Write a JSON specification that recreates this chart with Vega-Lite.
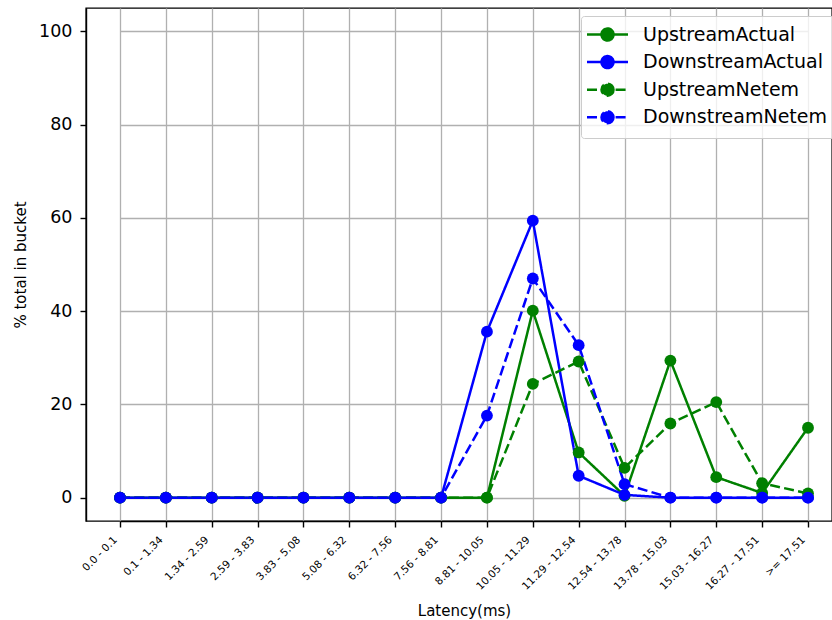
{
  "$schema": "https://vega.github.io/schema/vega-lite/v6.json",
  "width": 746,
  "height": 513,
  "autosize": {"type": "none"},
  "padding": {"left": 86, "top": 8, "right": 0, "bottom": 99},
  "background": "white",
  "config": {
    "font": "DejaVu Sans",
    "view": {"stroke": "#000000", "strokeWidth": 1.4},
    "axis": {
      "domainColor": "#000000", "domainWidth": 1.4,
      "tickColor": "#000000", "tickWidth": 1.4, "tickSize": 6,
      "gridColor": "#b0b0b0", "gridWidth": 1.3,
      "labelColor": "#000000", "titleColor": "#000000",
      "titleFontWeight": "normal", "labelFont": "DejaVu Sans", "titleFont": "DejaVu Sans"
    },
    "legend": {
      "orient": "none", "legendX": 495, "legendY": 8,
      "fillColor": "rgba(255,255,255,0.8)", "strokeColor": "#cccccc", "cornerRadius": 3,
      "padding": 9, "labelFontSize": 19, "labelFont": "DejaVu Sans", "labelColor": "#000000", "labelLimit": 400,
      "symbolType": "M-4.1,0H4.1M1.2,0A1.2,1.2,0,1,1,-1.2,0A1.2,1.2,0,1,1,1.2,0Z",
      "symbolSize": 100, "symbolStrokeWidth": 2.5, "symbolOffset": 8,
      "labelOffset": 26, "rowPadding": 4.6, "symbolOpacity": 1
    }
  },
  "data": {"values": [
    {"bucket": "0.0 - 0.1", "series": "UpstreamActual", "pct": 0},
    {"bucket": "0.1 - 1.34", "series": "UpstreamActual", "pct": 0},
    {"bucket": "1.34 - 2.59", "series": "UpstreamActual", "pct": 0},
    {"bucket": "2.59 - 3.83", "series": "UpstreamActual", "pct": 0},
    {"bucket": "3.83 - 5.08", "series": "UpstreamActual", "pct": 0},
    {"bucket": "5.08 - 6.32", "series": "UpstreamActual", "pct": 0},
    {"bucket": "6.32 - 7.56", "series": "UpstreamActual", "pct": 0},
    {"bucket": "7.56 - 8.81", "series": "UpstreamActual", "pct": 0},
    {"bucket": "8.81 - 10.05", "series": "UpstreamActual", "pct": 0},
    {"bucket": "10.05 - 11.29", "series": "UpstreamActual", "pct": 40.1},
    {"bucket": "11.29 - 12.54", "series": "UpstreamActual", "pct": 9.7},
    {"bucket": "12.54 - 13.78", "series": "UpstreamActual", "pct": 0.4},
    {"bucket": "13.78 - 15.03", "series": "UpstreamActual", "pct": 29.4},
    {"bucket": "15.03 - 16.27", "series": "UpstreamActual", "pct": 4.4},
    {"bucket": "16.27 - 17.51", "series": "UpstreamActual", "pct": 1.0},
    {"bucket": ">= 17.51", "series": "UpstreamActual", "pct": 15.0},
    {"bucket": "0.0 - 0.1", "series": "DownstreamActual", "pct": 0},
    {"bucket": "0.1 - 1.34", "series": "DownstreamActual", "pct": 0},
    {"bucket": "1.34 - 2.59", "series": "DownstreamActual", "pct": 0},
    {"bucket": "2.59 - 3.83", "series": "DownstreamActual", "pct": 0},
    {"bucket": "3.83 - 5.08", "series": "DownstreamActual", "pct": 0},
    {"bucket": "5.08 - 6.32", "series": "DownstreamActual", "pct": 0},
    {"bucket": "6.32 - 7.56", "series": "DownstreamActual", "pct": 0},
    {"bucket": "7.56 - 8.81", "series": "DownstreamActual", "pct": 0},
    {"bucket": "8.81 - 10.05", "series": "DownstreamActual", "pct": 35.6},
    {"bucket": "10.05 - 11.29", "series": "DownstreamActual", "pct": 59.4},
    {"bucket": "11.29 - 12.54", "series": "DownstreamActual", "pct": 4.7},
    {"bucket": "12.54 - 13.78", "series": "DownstreamActual", "pct": 0.6},
    {"bucket": "13.78 - 15.03", "series": "DownstreamActual", "pct": 0},
    {"bucket": "15.03 - 16.27", "series": "DownstreamActual", "pct": 0},
    {"bucket": "16.27 - 17.51", "series": "DownstreamActual", "pct": 0},
    {"bucket": ">= 17.51", "series": "DownstreamActual", "pct": 0},
    {"bucket": "0.0 - 0.1", "series": "UpstreamNetem", "pct": 0},
    {"bucket": "0.1 - 1.34", "series": "UpstreamNetem", "pct": 0},
    {"bucket": "1.34 - 2.59", "series": "UpstreamNetem", "pct": 0},
    {"bucket": "2.59 - 3.83", "series": "UpstreamNetem", "pct": 0},
    {"bucket": "3.83 - 5.08", "series": "UpstreamNetem", "pct": 0},
    {"bucket": "5.08 - 6.32", "series": "UpstreamNetem", "pct": 0},
    {"bucket": "6.32 - 7.56", "series": "UpstreamNetem", "pct": 0},
    {"bucket": "7.56 - 8.81", "series": "UpstreamNetem", "pct": 0},
    {"bucket": "8.81 - 10.05", "series": "UpstreamNetem", "pct": 0},
    {"bucket": "10.05 - 11.29", "series": "UpstreamNetem", "pct": 24.4},
    {"bucket": "11.29 - 12.54", "series": "UpstreamNetem", "pct": 29.2},
    {"bucket": "12.54 - 13.78", "series": "UpstreamNetem", "pct": 6.4},
    {"bucket": "13.78 - 15.03", "series": "UpstreamNetem", "pct": 15.9},
    {"bucket": "15.03 - 16.27", "series": "UpstreamNetem", "pct": 20.5},
    {"bucket": "16.27 - 17.51", "series": "UpstreamNetem", "pct": 3.1},
    {"bucket": ">= 17.51", "series": "UpstreamNetem", "pct": 0.9},
    {"bucket": "0.0 - 0.1", "series": "DownstreamNetem", "pct": 0},
    {"bucket": "0.1 - 1.34", "series": "DownstreamNetem", "pct": 0},
    {"bucket": "1.34 - 2.59", "series": "DownstreamNetem", "pct": 0},
    {"bucket": "2.59 - 3.83", "series": "DownstreamNetem", "pct": 0},
    {"bucket": "3.83 - 5.08", "series": "DownstreamNetem", "pct": 0},
    {"bucket": "5.08 - 6.32", "series": "DownstreamNetem", "pct": 0},
    {"bucket": "6.32 - 7.56", "series": "DownstreamNetem", "pct": 0},
    {"bucket": "7.56 - 8.81", "series": "DownstreamNetem", "pct": 0},
    {"bucket": "8.81 - 10.05", "series": "DownstreamNetem", "pct": 17.6},
    {"bucket": "10.05 - 11.29", "series": "DownstreamNetem", "pct": 47.0},
    {"bucket": "11.29 - 12.54", "series": "DownstreamNetem", "pct": 32.7},
    {"bucket": "12.54 - 13.78", "series": "DownstreamNetem", "pct": 2.9},
    {"bucket": "13.78 - 15.03", "series": "DownstreamNetem", "pct": 0},
    {"bucket": "15.03 - 16.27", "series": "DownstreamNetem", "pct": 0},
    {"bucket": "16.27 - 17.51", "series": "DownstreamNetem", "pct": 0},
    {"bucket": ">= 17.51", "series": "DownstreamNetem", "pct": 0}
  ]},
  "encoding": {
    "x": {
      "field": "bucket", "type": "ordinal",
      "sort": ["0.0 - 0.1","0.1 - 1.34","1.34 - 2.59","2.59 - 3.83","3.83 - 5.08","5.08 - 6.32","6.32 - 7.56","7.56 - 8.81","8.81 - 10.05","10.05 - 11.29","11.29 - 12.54","12.54 - 13.78","13.78 - 15.03","15.03 - 16.27","16.27 - 17.51",">= 17.51"],
      "scale": {"type": "point", "range": [34, 722], "padding": 0},
      "axis": {
        "title": "Latency(ms)", "titleFontSize": 15, "titleX": 378, "titleY": 94, "titleBaseline": "alphabetic",
        "labelAngle": -45, "labelAlign": "right", "labelBaseline": "middle", "labelFontSize": 10.5,
        "labelPadding": 11, "labelOffset": -5, "grid": true
      }
    },
    "y": {
      "field": "pct", "type": "quantitative",
      "scale": {"domain": [-5, 105], "nice": false, "zero": false},
      "axis": {
        "title": "% total in bucket", "titleFontSize": 15, "titleX": -66, "titleBaseline": "middle",
        "values": [0, 20, 40, 60, 80, 100], "labelFontSize": 17.5, "labelPadding": 8, "grid": true
      }
    },
    "color": {
      "field": "series", "type": "nominal",
      "scale": {"domain": ["UpstreamActual", "DownstreamActual", "UpstreamNetem", "DownstreamNetem"], "range": ["#008000", "#0000ff", "#008000", "#0000ff"]},
      "legend": {"title": null, "encode": {"symbols": {"update": {"fill": {"scale": "color", "field": "value"}}}}}
    }
  },
  "layer": [
    {
      "mark": {"type": "line", "strokeWidth": 2.5},
      "encoding": {
        "strokeDash": {
          "field": "series", "type": "nominal",
          "scale": {"domain": ["UpstreamActual", "DownstreamActual", "UpstreamNetem", "DownstreamNetem"], "range": [[1, 0], [1, 0], [10, 4.3], [10, 4.3]]},
          "legend": {"title": null}
        }
      }
    },
    {
      "mark": {"type": "point", "filled": true, "opacity": 1, "size": 140, "shape": "circle"}
    }
  ]
}
